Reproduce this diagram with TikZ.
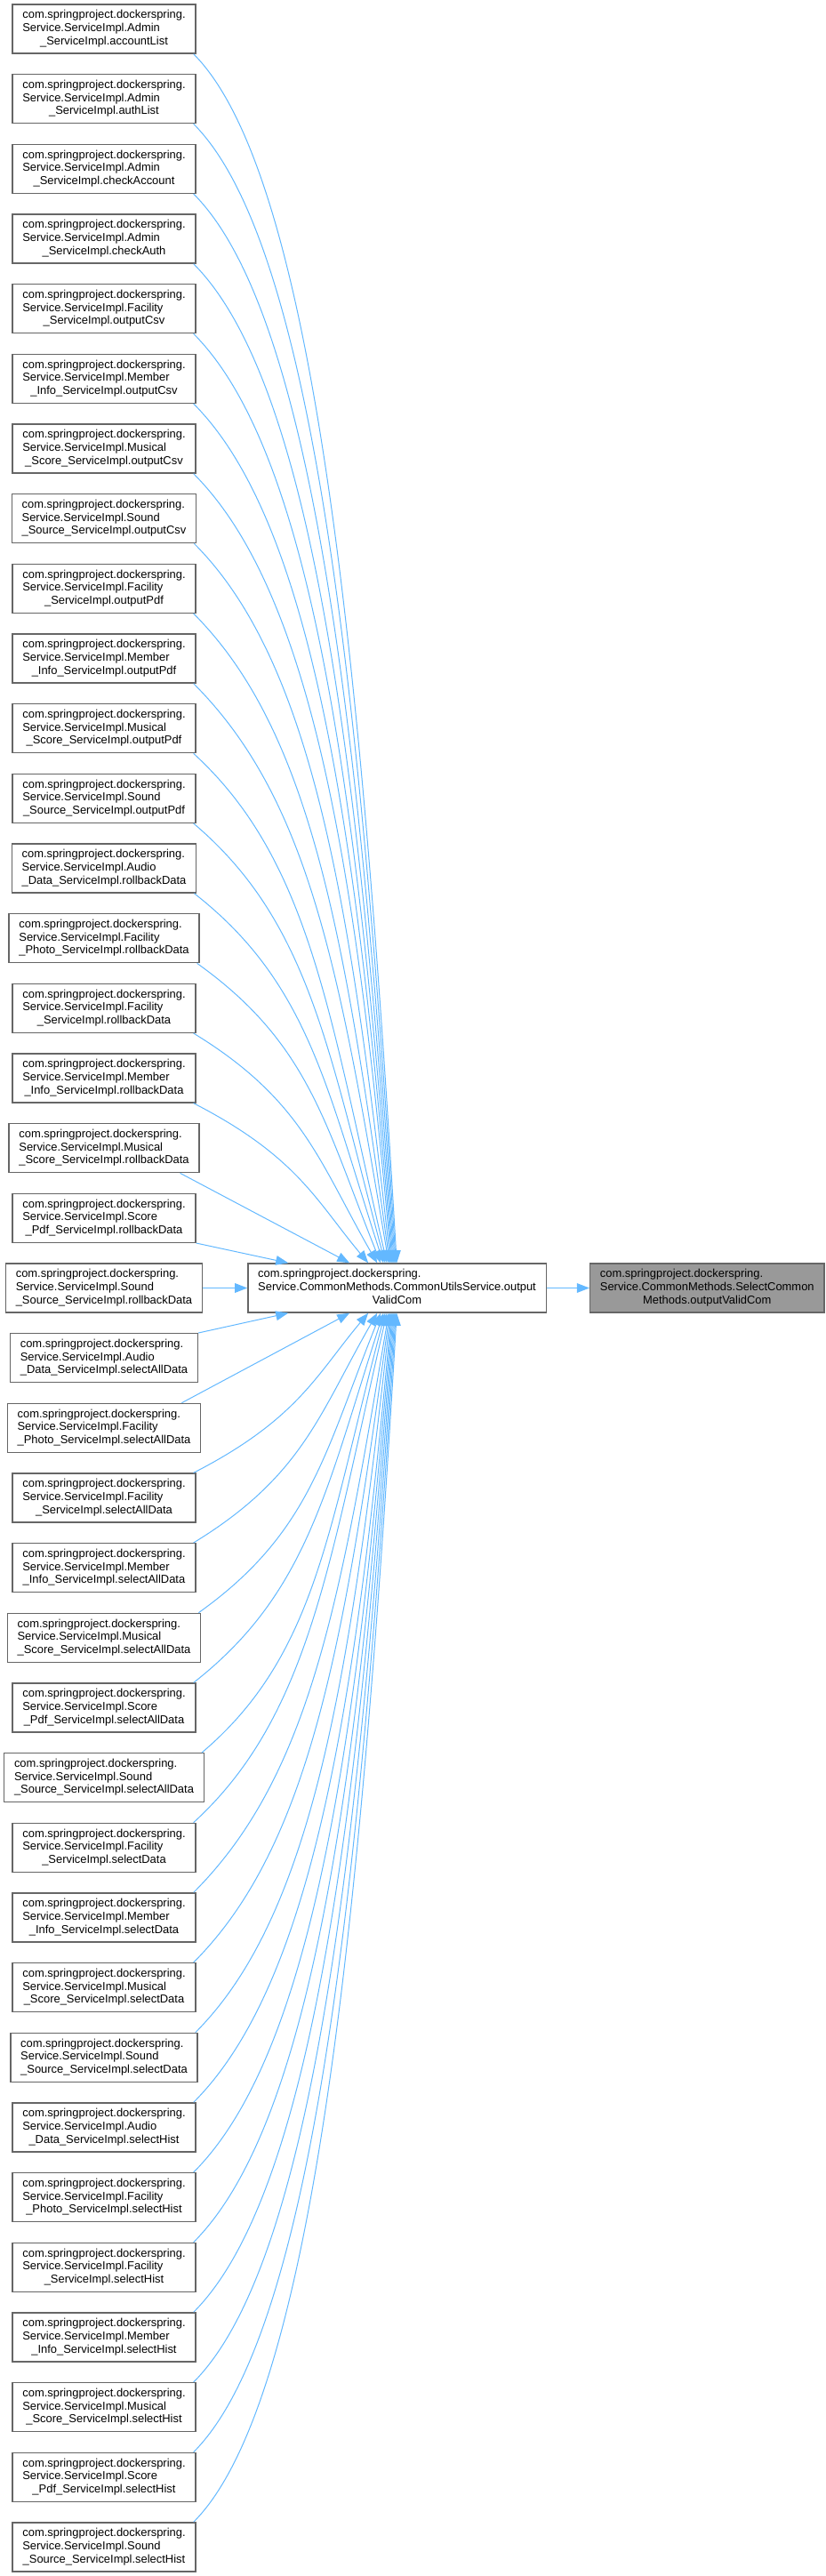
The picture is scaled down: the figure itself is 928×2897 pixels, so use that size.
\documentclass[tikz,border=0pt]{standalone}
\usepackage{fontspec}
\setmainfont{Liberation Sans}
\usepackage{xcolor}
\usepackage{tikz}
\usetikzlibrary{positioning,arrows.meta,calc}
\definecolor{cedge}{HTML}{63B8FF}
\definecolor{cline}{HTML}{666666}
\definecolor{cgrayf}{HTML}{999999}
\newcommand{\fnlbl}[3]{\begin{tabular}{@{}l@{}}#1\\#2\\\multicolumn{1}{@{}c@{}}{#3}\end{tabular}}
\tikzset{
  fn/.style={draw=cline,line width=1pt,fill=white,minimum height=41.25pt,inner xsep=8.5pt,inner ysep=0pt,
             font=\fontsize{9.7}{11}\selectfont},
  fnsel/.style={fn,fill=cgrayf},
  cl/.style={-{Triangle[length=10.5pt,width=8pt]},draw=cedge,line width=.75pt}
}
\begin{document}
\begin{tikzpicture}[x=0.75pt,y=0.75pt,node distance=16.75pt]
\useasboundingbox (0,0) rectangle (928,-2897);
\node[fn] (c1) at (117,-32.5) {\fnlbl{com.springproject.dockerspring.}{Service.ServiceImpl.Admin}{\_ServiceImpl.accountList}};
\node[fn,below=of c1] (c2) {\fnlbl{com.springproject.dockerspring.}{Service.ServiceImpl.Admin}{\_ServiceImpl.authList}};
\node[fn,below=of c2] (c3) {\fnlbl{com.springproject.dockerspring.}{Service.ServiceImpl.Admin}{\_ServiceImpl.checkAccount}};
\node[fn,below=of c3] (c4) {\fnlbl{com.springproject.dockerspring.}{Service.ServiceImpl.Admin}{\_ServiceImpl.checkAuth}};
\node[fn,below=of c4] (c5) {\fnlbl{com.springproject.dockerspring.}{Service.ServiceImpl.Facility}{\_ServiceImpl.outputCsv}};
\node[fn,below=of c5] (c6) {\fnlbl{com.springproject.dockerspring.}{Service.ServiceImpl.Member}{\_Info\_ServiceImpl.outputCsv}};
\node[fn,below=of c6] (c7) {\fnlbl{com.springproject.dockerspring.}{Service.ServiceImpl.Musical}{\_Score\_ServiceImpl.outputCsv}};
\node[fn,below=of c7] (c8) {\fnlbl{com.springproject.dockerspring.}{Service.ServiceImpl.Sound}{\_Source\_ServiceImpl.outputCsv}};
\node[fn,below=of c8] (c9) {\fnlbl{com.springproject.dockerspring.}{Service.ServiceImpl.Facility}{\_ServiceImpl.outputPdf}};
\node[fn,below=of c9] (c10) {\fnlbl{com.springproject.dockerspring.}{Service.ServiceImpl.Member}{\_Info\_ServiceImpl.outputPdf}};
\node[fn,below=of c10] (c11) {\fnlbl{com.springproject.dockerspring.}{Service.ServiceImpl.Musical}{\_Score\_ServiceImpl.outputPdf}};
\node[fn,below=of c11] (c12) {\fnlbl{com.springproject.dockerspring.}{Service.ServiceImpl.Sound}{\_Source\_ServiceImpl.outputPdf}};
\node[fn,below=of c12] (c13) {\fnlbl{com.springproject.dockerspring.}{Service.ServiceImpl.Audio}{\_Data\_ServiceImpl.rollbackData}};
\node[fn,below=of c13] (c14) {\fnlbl{com.springproject.dockerspring.}{Service.ServiceImpl.Facility}{\_Photo\_ServiceImpl.rollbackData}};
\node[fn,below=of c14] (c15) {\fnlbl{com.springproject.dockerspring.}{Service.ServiceImpl.Facility}{\_ServiceImpl.rollbackData}};
\node[fn,below=of c15] (c16) {\fnlbl{com.springproject.dockerspring.}{Service.ServiceImpl.Member}{\_Info\_ServiceImpl.rollbackData}};
\node[fn,below=of c16] (c17) {\fnlbl{com.springproject.dockerspring.}{Service.ServiceImpl.Musical}{\_Score\_ServiceImpl.rollbackData}};
\node[fn,below=of c17] (c18) {\fnlbl{com.springproject.dockerspring.}{Service.ServiceImpl.Score}{\_Pdf\_ServiceImpl.rollbackData}};
\node[fn,below=of c18] (c19) {\fnlbl{com.springproject.dockerspring.}{Service.ServiceImpl.Sound}{\_Source\_ServiceImpl.rollbackData}};
\node[fn,below=of c19] (c20) {\fnlbl{com.springproject.dockerspring.}{Service.ServiceImpl.Audio}{\_Data\_ServiceImpl.selectAllData}};
\node[fn,below=of c20] (c21) {\fnlbl{com.springproject.dockerspring.}{Service.ServiceImpl.Facility}{\_Photo\_ServiceImpl.selectAllData}};
\node[fn,below=of c21] (c22) {\fnlbl{com.springproject.dockerspring.}{Service.ServiceImpl.Facility}{\_ServiceImpl.selectAllData}};
\node[fn,below=of c22] (c23) {\fnlbl{com.springproject.dockerspring.}{Service.ServiceImpl.Member}{\_Info\_ServiceImpl.selectAllData}};
\node[fn,below=of c23] (c24) {\fnlbl{com.springproject.dockerspring.}{Service.ServiceImpl.Musical}{\_Score\_ServiceImpl.selectAllData}};
\node[fn,below=of c24] (c25) {\fnlbl{com.springproject.dockerspring.}{Service.ServiceImpl.Score}{\_Pdf\_ServiceImpl.selectAllData}};
\node[fn,below=of c25] (c26) {\fnlbl{com.springproject.dockerspring.}{Service.ServiceImpl.Sound}{\_Source\_ServiceImpl.selectAllData}};
\node[fn,below=of c26] (c27) {\fnlbl{com.springproject.dockerspring.}{Service.ServiceImpl.Facility}{\_ServiceImpl.selectData}};
\node[fn,below=of c27] (c28) {\fnlbl{com.springproject.dockerspring.}{Service.ServiceImpl.Member}{\_Info\_ServiceImpl.selectData}};
\node[fn,below=of c28] (c29) {\fnlbl{com.springproject.dockerspring.}{Service.ServiceImpl.Musical}{\_Score\_ServiceImpl.selectData}};
\node[fn,below=of c29] (c30) {\fnlbl{com.springproject.dockerspring.}{Service.ServiceImpl.Sound}{\_Source\_ServiceImpl.selectData}};
\node[fn,below=of c30] (c31) {\fnlbl{com.springproject.dockerspring.}{Service.ServiceImpl.Audio}{\_Data\_ServiceImpl.selectHist}};
\node[fn,below=of c31] (c32) {\fnlbl{com.springproject.dockerspring.}{Service.ServiceImpl.Facility}{\_Photo\_ServiceImpl.selectHist}};
\node[fn,below=of c32] (c33) {\fnlbl{com.springproject.dockerspring.}{Service.ServiceImpl.Facility}{\_ServiceImpl.selectHist}};
\node[fn,below=of c33] (c34) {\fnlbl{com.springproject.dockerspring.}{Service.ServiceImpl.Member}{\_Info\_ServiceImpl.selectHist}};
\node[fn,below=of c34] (c35) {\fnlbl{com.springproject.dockerspring.}{Service.ServiceImpl.Musical}{\_Score\_ServiceImpl.selectHist}};
\node[fn,below=of c35] (c36) {\fnlbl{com.springproject.dockerspring.}{Service.ServiceImpl.Score}{\_Pdf\_ServiceImpl.selectHist}};
\node[fn,below=of c36] (c37) {\fnlbl{com.springproject.dockerspring.}{Service.ServiceImpl.Sound}{\_Source\_ServiceImpl.selectHist}};

\node[fn,right=37.5pt of c19] (util) {\fnlbl{com.springproject.dockerspring.}{Service.CommonMethods.CommonUtilsService.output}{ValidCom}};
\node[fnsel,right=36pt of util] (sel) {\fnlbl{com.springproject.dockerspring.}{Service.CommonMethods.SelectCommon}{Methods.outputValidCom}};

% callers above
\draw[cl] ($(c1.south east)+(-3,0)$) .. controls +(135,-135) and +(-40,680) .. ($(util.north west)+(168,0)$);
\draw[cl] ($(c2.south east)+(-3,0)$) .. controls +(135,-135) and +(-40,641) .. ($(util.north west)+(167,0)$);
\draw[cl] ($(c3.south east)+(-3,0)$) .. controls +(134,-134) and +(-40,602) .. ($(util.north west)+(166,0)$);
\draw[cl] ($(c4.south east)+(-3,0)$) .. controls +(134,-134) and +(-40,562) .. ($(util.north west)+(165,0)$);
\draw[cl] ($(c5.south east)+(-3,0)$) .. controls +(134,-134) and +(-40,523) .. ($(util.north west)+(164,0)$);
\draw[cl] ($(c6.south east)+(-3,0)$) .. controls +(134,-134) and +(-40,484) .. ($(util.north west)+(163,0)$);
\draw[cl] ($(c7.south east)+(-3,0)$) .. controls +(133,-133) and +(-40,444) .. ($(util.north west)+(162,0)$);
\draw[cl] ($(c8.south east)+(-3,0)$) .. controls +(133,-133) and +(-45,405) .. ($(util.north west)+(161,0)$);
\draw[cl] ($(c9.south east)+(-3,0)$) .. controls +(132,-132) and +(-50,366) .. ($(util.north west)+(160,0)$);
\draw[cl] ($(c10.south east)+(-3,0)$) .. controls +(131,-131) and +(-55,326) .. ($(util.north west)+(159,0)$);
\draw[cl] ($(c11.south east)+(-3,0)$) .. controls +(131,-120) and +(-65,280) .. ($(util.north west)+(157,0)$);
\draw[cl] ($(c12.south east)+(-3,0)$) .. controls +(130,-110) and +(-64,240) .. ($(util.north west)+(155,0)$);
\draw[cl] ($(c13.south east)+(-3,0)$) .. controls +(128,-100) and +(-64,198) .. ($(util.north west)+(153,0)$);
\draw[cl] ($(c14.south east)+(-3,0)$) .. controls +(126,-90) and +(-63,157) .. ($(util.north west)+(150,0)$);
\draw[cl] ($(c15.south east)+(-3,0)$) .. controls +(123,-75) and +(-65,113) .. ($(util.north west)+(146,0)$);
\draw[cl] ($(c16.south east)+(-3,0)$) .. controls +(117,-60) and +(-58,69) .. ($(util.north west)+(136,0)$);
\draw[cl] ($(c17.south east)+(-22,0)$) -- ($(util.north west)+(115,0)$);
\draw[cl] (c18.south east) -- ($(util.north west)+(46,0)$);
\draw[cl] (c19.east) -- (util.west);
% callers below
\draw[cl] (c20.north east) -- ($(util.south west)+(46,0)$);
\draw[cl] ($(c21.north east)+(-22,0)$) -- ($(util.south west)+(115,0)$);
\draw[cl] ($(c22.north east)+(-3,0)$) .. controls +(117,60) and +(-58,-69) .. ($(util.south west)+(136,0)$);
\draw[cl] ($(c23.north east)+(-3,0)$) .. controls +(123,75) and +(-65,-113) .. ($(util.south west)+(146,0)$);
\draw[cl] ($(c24.north east)+(-3,0)$) .. controls +(126,90) and +(-63,-157) .. ($(util.south west)+(150,0)$);
\draw[cl] ($(c25.north east)+(-3,0)$) .. controls +(128,100) and +(-64,-198) .. ($(util.south west)+(153,0)$);
\draw[cl] ($(c26.north east)+(-3,0)$) .. controls +(130,110) and +(-64,-240) .. ($(util.south west)+(155,0)$);
\draw[cl] ($(c27.north east)+(-3,0)$) .. controls +(131,120) and +(-65,-280) .. ($(util.south west)+(157,0)$);
\draw[cl] ($(c28.north east)+(-3,0)$) .. controls +(131,131) and +(-55,-326) .. ($(util.south west)+(159,0)$);
\draw[cl] ($(c29.north east)+(-3,0)$) .. controls +(132,132) and +(-50,-366) .. ($(util.south west)+(160,0)$);
\draw[cl] ($(c30.north east)+(-3,0)$) .. controls +(133,133) and +(-45,-405) .. ($(util.south west)+(161,0)$);
\draw[cl] ($(c31.north east)+(-3,0)$) .. controls +(133,133) and +(-40,-444) .. ($(util.south west)+(162,0)$);
\draw[cl] ($(c32.north east)+(-3,0)$) .. controls +(134,134) and +(-40,-484) .. ($(util.south west)+(163,0)$);
\draw[cl] ($(c33.north east)+(-3,0)$) .. controls +(134,134) and +(-40,-523) .. ($(util.south west)+(164,0)$);
\draw[cl] ($(c34.north east)+(-3,0)$) .. controls +(134,134) and +(-40,-562) .. ($(util.south west)+(165,0)$);
\draw[cl] ($(c35.north east)+(-3,0)$) .. controls +(134,134) and +(-40,-602) .. ($(util.south west)+(166,0)$);
\draw[cl] ($(c36.north east)+(-3,0)$) .. controls +(135,135) and +(-40,-641) .. ($(util.south west)+(167,0)$);
\draw[cl] ($(c37.north east)+(-3,0)$) .. controls +(135,135) and +(-40,-680) .. ($(util.south west)+(168,0)$);

\draw[cl] (util.east) -- (sel.west);
\end{tikzpicture}
\end{document}
